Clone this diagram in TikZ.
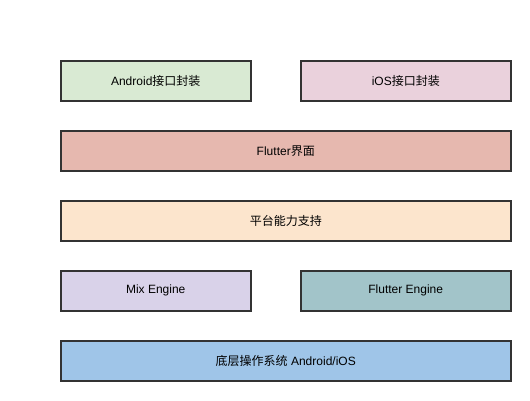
\documentclass[tikz,border=0pt]{standalone}
\usepackage{fontspec}
\setmainfont{Liberation Sans}
\newfontfamily\cjk{Noto Sans CJK SC}
\definecolor{cgreen}{HTML}{D9EAD3}
\definecolor{cpink}{HTML}{EAD1DC}
\definecolor{cred}{HTML}{E6B8AF}
\definecolor{corange}{HTML}{FCE5CD}
\definecolor{cpurple}{HTML}{D9D2E9}
\definecolor{cteal}{HTML}{A2C4C9}
\definecolor{cblue}{HTML}{9FC5E8}
\definecolor{cborder}{HTML}{333333}
\begin{document}
\begin{tikzpicture}[x=1pt,y=-1pt,
  layer/.style={draw=cborder,line width=1.5pt,anchor=north west,inner sep=0pt,font=\fontsize{12}{14}\selectfont,text=black}]
\useasboundingbox (0,0) rectangle (530,400);
\node[layer,fill=cgreen,minimum width=190pt,minimum height=40pt] (android) at (60,60) {Android{\cjk 接口封装}};
\node[layer,fill=cpink,minimum width=210pt,minimum height=40pt] (ios) at (300,60) {iOS{\cjk 接口封装}};
\node[layer,fill=cred,minimum width=450pt,minimum height=40pt] (ui) at (60,130) {Flutter{\cjk 界面}};
\node[layer,fill=corange,minimum width=450pt,minimum height=40pt] (plat) at (60,200) {{\cjk 平台能力支持}};
\node[layer,fill=cpurple,minimum width=190pt,minimum height=40pt] (mix) at (60,270) {Mix Engine};
\node[layer,fill=cteal,minimum width=210pt,minimum height=40pt] (fe) at (300,270) {Flutter Engine};
\node[layer,fill=cblue,minimum width=450pt,minimum height=40pt] (os) at (60,340) {{\cjk 底层操作系统} Android/iOS};
\end{tikzpicture}
\end{document}
